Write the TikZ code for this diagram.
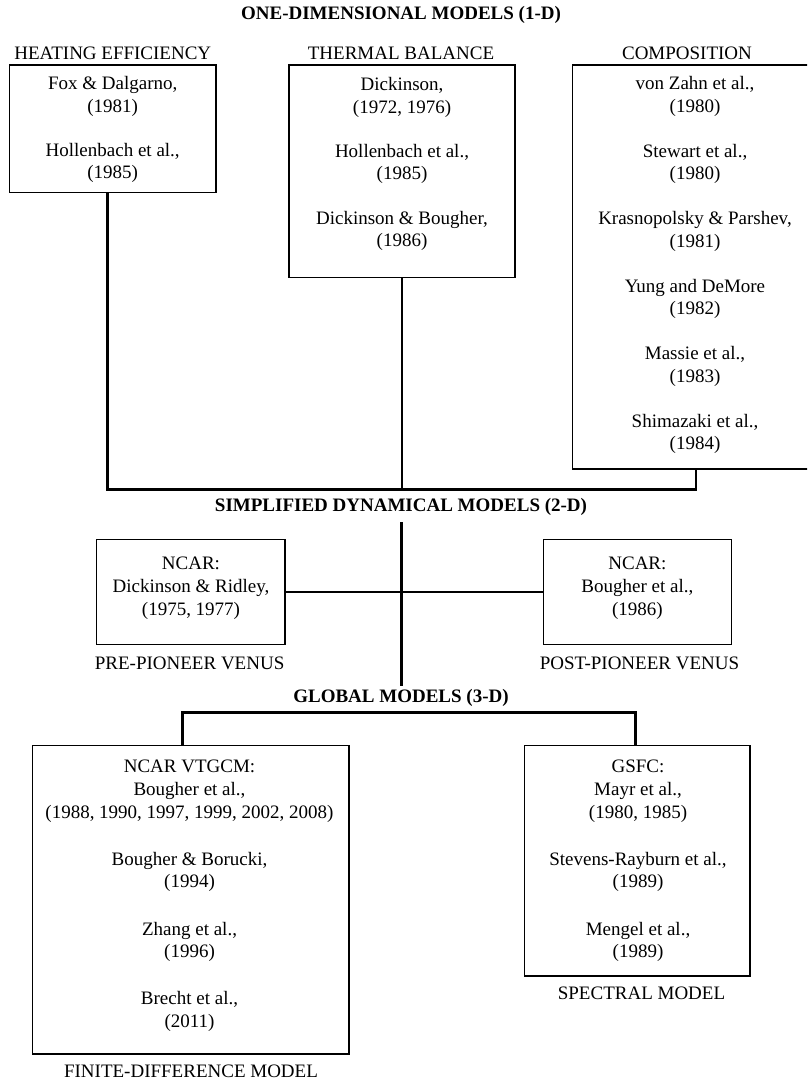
\documentclass[tikz,border=0pt]{standalone}
\usepackage{fontspec}
\setmainfont{Liberation Serif}
\begin{document}
\begin{tikzpicture}[x=1pt,y=-1pt,
  boxst/.style={draw, line width=1.3pt, inner sep=0pt, outer sep=0pt, anchor=north west},
  txt/.style={font=\fontsize{19}{22.8}\selectfont, align=center, inner sep=0pt},
  ttl/.style={font=\fontsize{19}{22.8}\selectfont\bfseries, inner sep=0pt},
  conn/.style={line width=2.5pt}]
\clip (0,0) rectangle (807,1082);
\useasboundingbox (0,0) rectangle (807,1082);

% titles
\node[ttl] (t1d) at (401,15) {ONE-DIMENSIONAL MODELS (1-D)};
\node[ttl] (t2d) at (401,506.7) {SIMPLIFIED DYNAMICAL MODELS (2-D)};
\node[ttl] (t3d) at (401,698.3) {GLOBAL MODELS (3-D)};

% headers
\node[txt] (hheat) at (112.8,53) {HEATING EFFICIENCY};
\node[txt] (htherm) at (401,53) {THERMAL BALANCE};
\node[txt] (hcomp) at (687,53) {COMPOSITION};

% 1-D boxes
\node[boxst, minimum width=206.7pt, minimum height=127.7pt] (b1) at (9.3,65) {};
\node[boxst, minimum width=226pt, minimum height=212.3pt] (b2) at (289,65) {};
\node[boxst, minimum width=260pt, minimum height=404pt] (b3) at (572.3,65) {};

\node[txt] (b1a) at (112.7,96.5) {Fox \& Dalgarno,\\(1981)};
\node[txt] (b1b) at (112.7,163) {Hollenbach et al.,\\(1985)};

\node[txt] (b2a) at (402,97.5) {Dickinson,\\(1972, 1976)};
\node[txt] (b2b) at (402,164) {Hollenbach et al.,\\(1985)};
\node[txt] (b2c) at (402,231) {Dickinson \& Bougher,\\(1986)};

\node[txt] (b3a) at (695,96.4) {von Zahn et al.,\\(1980)};
\node[txt] (b3b) at (695,163.9) {Stewart et al.,\\(1980)};
\node[txt] (b3c) at (695,231.4) {Krasnopolsky \& Parshev,\\(1981)};
\node[txt] (b3d) at (695,298.9) {Yung and DeMore\\(1982)};
\node[txt] (b3e) at (695,366.4) {Massie et al.,\\(1983)};
\node[txt] (b3f) at (695,433.9) {Shimazaki et al.,\\(1984)};

% 1-D connectors
\coordinate (j1) at (107.6,489.5);
\coordinate (j3) at (696,489.5);
\draw[conn] (b1.south -| j1) -- (j1) -- (j3) -- (b3.south -| j3);
\draw[conn] (b2.south) -- (b2.south |- j1);

% 2-D
\coordinate (m1) at (401.5,522);
\coordinate (m2) at (401.5,686);
\draw[conn] (m1) -- (m2);

\node[boxst, minimum width=188.2pt, minimum height=105pt] (n1) at (96.8,539.3) {};
\node[boxst, minimum width=187.8pt, minimum height=105pt] (n2) at (543.5,539.3) {};
\node[txt] (n1t) at (191,588) {NCAR:\\Dickinson \& Ridley,\\(1975, 1977)};
\node[txt] (n2t) at (637.4,588) {NCAR:\\Bougher et al.,\\(1986)};
\draw[conn] (n1.east) -- (n2.west);
\node[txt] (pre) at (189.6,663.3) {PRE-PIONEER VENUS};
\node[txt] (post) at (639.5,663.3) {POST-PIONEER VENUS};

% 3-D
\node[boxst, minimum width=316.6pt, minimum height=308.3pt] (fd) at (32.4,745.7) {};
\node[boxst, minimum width=225.5pt, minimum height=230.3pt] (sp) at (524.4,745.7) {};
\coordinate (g1) at (182.7,712.7);
\coordinate (g2) at (635.6,712.7);
\draw[conn] (fd.north -| g1) -- (g1) -- (g2) -- (sp.north -| g2);

\node[txt] (fda) at (189.5,791) {NCAR VTGCM:\\Bougher et al.,\\(1988, 1990, 1997, 1999, 2002, 2008)};
\node[txt] (fdb) at (189.5,872) {Bougher \& Borucki,\\(1994)};
\node[txt] (fdc) at (189.5,942) {Zhang et al.,\\(1996)};
\node[txt] (fdd) at (189.5,1011.7) {Brecht et al.,\\(2011)};

\node[txt] (spa) at (638,791) {GSFC:\\Mayr et al.,\\(1980, 1985)};
\node[txt] (spb) at (638,872) {Stevens-Rayburn et al.,\\(1989)};
\node[txt] (spc) at (638,942) {Mengel et al.,\\(1989)};

\node[txt] (fdl) at (191,1071.7) {FINITE-DIFFERENCE MODEL};
\node[txt] (spl) at (641.5,993.3) {SPECTRAL MODEL};
\end{tikzpicture}
\end{document}
